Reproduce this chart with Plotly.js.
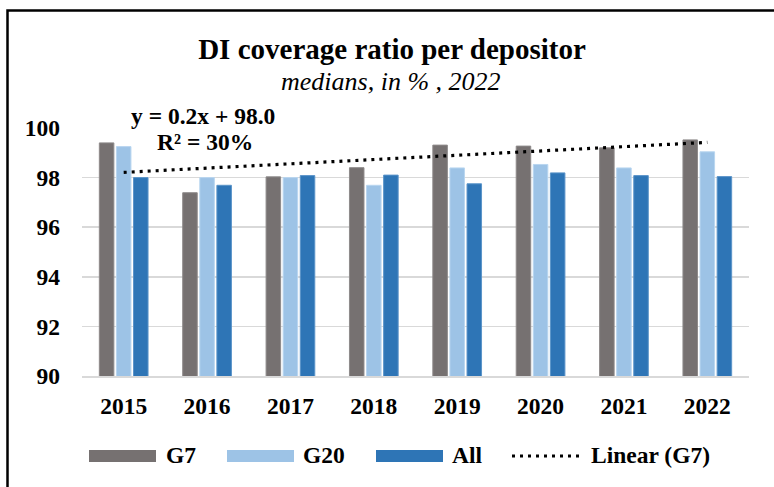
<!DOCTYPE html>
<html>
<head>
<meta charset="utf-8">
<script src="https://cdn.plot.ly/plotly-3.0.1.min.js"></script>
<style>
html,body{margin:0;padding:0;background:#fff;}
#chart{width:774px;height:487px;}
</style>
</head>
<body>
<div id="chart"></div>
<script>
// ---- data ----
const years = ["2015","2016","2017","2018","2019","2020","2021","2022"];
const g7  = [99.40, 97.39, 98.03, 98.40, 99.31, 99.27, 99.20, 99.52];
const g20 = [99.25, 98.00, 98.00, 97.69, 98.39, 98.53, 98.39, 99.04];
const all = [98.00, 97.69, 98.08, 98.10, 97.75, 98.19, 98.08, 98.04];
const seriesNames = ["G7", "G20", "All", "Linear (G7)"];
const yTicks = [90, 92, 94, 96, 98, 100];
const titleText = "DI coverage ratio per depositor";
const subtitleText = "medians, in % , 2022";
const eqText = "y = 0.2x + 98.0";
const r2Text = "R² = 30%";

// linear trendline (least squares on G7, x = 1..n), as Excel does
function linearFit(vals){
  const n = vals.length;
  const xs = vals.map((v,i)=>i+1);
  const mx = xs.reduce((a,b)=>a+b,0)/n;
  const my = vals.reduce((a,b)=>a+b,0)/n;
  let sxy=0, sxx=0;
  for(let i=0;i<n;i++){ sxy += (xs[i]-mx)*(vals[i]-my); sxx += (xs[i]-mx)**2; }
  const b = sxy/sxx, a = my - b*mx;
  return xs.map(x=>a+b*x);
}
const g7Trend = linearFit(g7);

// ---- layout helpers (pixel -> paper) ----
const W=774, H=487, ML=82, MR=25, MT=128, MB=111;
const PW = W-ML-MR, PH = H-MT-MB;
const px = x => (x-ML)/PW;
const py = y => (H-MB-y)/PH;

const serif = "Liberation Serif, Times New Roman, serif";
const colors = {g7:"#767171", g20:"#9DC3E6", all:"#2E75B6"};
const FS = 23.5;

const traces = [
  {type:"bar", name:seriesNames[0], x:years, y:g7, marker:{color:colors.g7, line:{color:"#8e8a8a", width:1}}, showlegend:false},
  {type:"bar", name:seriesNames[1], x:years, y:g20, marker:{color:colors.g20, line:{color:"#b9d6f0", width:1}}, showlegend:false},
  {type:"bar", name:seriesNames[2], x:years, y:all, marker:{color:colors.all, line:{color:"#5b94c9", width:1}}, showlegend:false},
  {type:"scatter", mode:"lines", name:seriesNames[3], x:years, y:g7Trend, line:{color:"#000", width:3.2, dash:"3px,5px"}, showlegend:false, cliponaxis:false}
];

const legendFont = {family:serif, size:FS, color:"#000", weight:"bold"};
const shapes = [
  // outer frame
  {type:"rect", xref:"paper", yref:"paper", x0:px(7.5), x1:px(790), y0:py(500), y1:py(10.5), line:{color:"#000", width:2.5}, fillcolor:"rgba(0,0,0,0)", layer:"above"},
  // legend swatches
  {type:"rect", xref:"paper", yref:"paper", x0:px(89), x1:px(156), y0:py(462), y1:py(450), line:{width:0}, fillcolor:colors.g7},
  {type:"rect", xref:"paper", yref:"paper", x0:px(227), x1:px(294), y0:py(462), y1:py(450), line:{width:0}, fillcolor:colors.g20},
  {type:"rect", xref:"paper", yref:"paper", x0:px(376), x1:px(443), y0:py(462), y1:py(450), line:{width:0}, fillcolor:colors.all},
  {type:"line", xref:"paper", yref:"paper", x0:px(512), x1:px(583), y0:py(456), y1:py(456), line:{color:"#000", width:3.2, dash:"3px,5px"}}
];

const annotations = [
  {text:subtitleText, xref:"paper", yref:"paper", x:px(391), y:py(82), xanchor:"center", yanchor:"middle", showarrow:false,
   font:{family:serif, size:26, color:"#000", style:"italic"}},
  {text:eqText, xref:"paper", yref:"paper", x:px(203), y:py(116), xanchor:"center", yanchor:"middle", showarrow:false,
   font:{family:serif, size:FS, color:"#000", weight:"bold"}},
  {text:r2Text, xref:"paper", yref:"paper", x:px(205), y:py(142), xanchor:"center", yanchor:"middle", showarrow:false,
   font:{family:serif, size:FS, color:"#000", weight:"bold"}},
  {text:seriesNames[0], xref:"paper", yref:"paper", x:px(164), y:py(455), xanchor:"left", yanchor:"middle", showarrow:false, font:legendFont},
  {text:seriesNames[1], xref:"paper", yref:"paper", x:px(301), y:py(455), xanchor:"left", yanchor:"middle", showarrow:false, font:legendFont},
  {text:seriesNames[2], xref:"paper", yref:"paper", x:px(450), y:py(455), xanchor:"left", yanchor:"middle", showarrow:false, font:legendFont},
  {text:seriesNames[3], xref:"paper", yref:"paper", x:px(589), y:py(455), xanchor:"left", yanchor:"middle", showarrow:false, font:legendFont}
];

const layout = {
  width:W, height:H,
  margin:{l:ML, r:MR, t:MT, b:MB, pad:0},
  paper_bgcolor:"#fff", plot_bgcolor:"#fff",
  title:{text:titleText, x:392/W, xanchor:"center", y:1-49/H, yanchor:"middle", yref:"container",
         font:{family:serif, size:29, color:"#000", weight:"bold"}},
  barmode:"group", bargap:0.385, bargroupgap:0.15,
  showlegend:false,
  xaxis:{type:"category", tickfont:{family:serif, size:FS, color:"#000", weight:"bold"},
         showgrid:false, zeroline:false, showline:true, linecolor:"#d9d9d9", linewidth:1.5,
         ticks:"", ticklabelstandoff:8},
  yaxis:{range:[90,100], tickvals:yTicks, ticktext:yTicks.map(String),
         tickfont:{family:serif, size:FS, color:"#000", weight:"bold"},
         showgrid:true, gridcolor:"#d9d9d9", gridwidth:1.5, zeroline:false, showline:false,
         ticks:"", ticklabelstandoff:21},
  shapes:shapes,
  annotations:annotations
};

Plotly.newPlot("chart", traces, layout, {displayModeBar:false, staticPlot:true});
</script>
</body>
</html>
